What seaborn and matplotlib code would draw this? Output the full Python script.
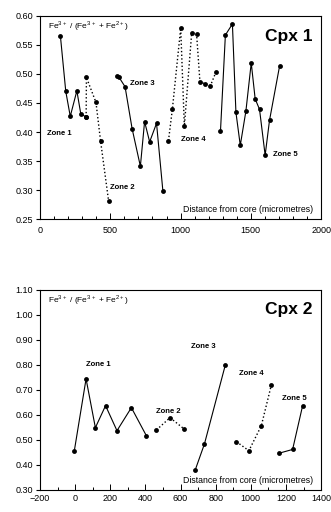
import matplotlib
matplotlib.use("Agg")
import matplotlib.pyplot as plt
import numpy as np
import pandas as pd
import seaborn as sns
from matplotlib.ticker import MultipleLocator, FormatStrFormatter

sns.set_style("ticks")
plt.rcParams["font.family"] = ["Liberation Sans", "DejaVu Sans"]
plt.rcParams["mathtext.fontset"] = "custom"
plt.rcParams["mathtext.rm"] = "Liberation Sans"
for k in ["text.color", "axes.labelcolor", "xtick.color", "ytick.color", "axes.edgecolor"]:
    plt.rcParams[k] = "black"

# Cpx 1 -- distance from core (micrometres) and Fe3+/(Fe3+ + Fe2+)
cpx1_zone1_x = [145, 183, 215, 262, 290, 328]
cpx1_zone1_y = [0.565, 0.470, 0.427, 0.471, 0.431, 0.426]
cpx1_zone2_x = [328, 330, 398, 431, 488]
cpx1_zone2_y = [0.426, 0.494, 0.451, 0.384, 0.281]
cpx1_zone3_x = [548, 560, 605, 655, 714, 744, 780, 829, 874]
cpx1_zone3_y = [0.497, 0.495, 0.478, 0.406, 0.341, 0.418, 0.383, 0.415, 0.299]
cpx1_zone4_x = [914, 942, 1001, 1027, 1079, 1114, 1138, 1175, 1213, 1253]
cpx1_zone4_y = [0.385, 0.440, 0.579, 0.410, 0.570, 0.569, 0.486, 0.483, 0.480, 0.504]
cpx1_zone5_x = [1284, 1319, 1369, 1394, 1425, 1465, 1503, 1531, 1562, 1602, 1633, 1705]
cpx1_zone5_y = [0.401, 0.567, 0.586, 0.434, 0.377, 0.436, 0.519, 0.457, 0.439, 0.360, 0.420, 0.514]

# Cpx 2
cpx2_zone1_x = [-5, 62, 115, 173, 238, 320, 406]
cpx2_zone1_y = [0.456, 0.744, 0.549, 0.637, 0.537, 0.629, 0.516]
cpx2_zone2_x = [463, 540, 620]
cpx2_zone2_y = [0.540, 0.589, 0.544]
cpx2_zone3_x = [683, 736, 855]
cpx2_zone3_y = [0.379, 0.484, 0.800]
cpx2_zone4_x = [918, 989, 1060, 1117]
cpx2_zone4_y = [0.493, 0.457, 0.557, 0.720]
cpx2_zone5_x = [1161, 1238, 1295]
cpx2_zone5_y = [0.447, 0.462, 0.637]

zone_names = ["Zone 1", "Zone 2", "Zone 3", "Zone 4", "Zone 5"]
zone_styles = ["-", ":", "-", ":", "-"]

cpx1 = [(cpx1_zone1_x, cpx1_zone1_y), (cpx1_zone2_x, cpx1_zone2_y), (cpx1_zone3_x, cpx1_zone3_y),
        (cpx1_zone4_x, cpx1_zone4_y), (cpx1_zone5_x, cpx1_zone5_y)]
cpx2 = [(cpx2_zone1_x, cpx2_zone1_y), (cpx2_zone2_x, cpx2_zone2_y), (cpx2_zone3_x, cpx2_zone3_y),
        (cpx2_zone4_x, cpx2_zone4_y), (cpx2_zone5_x, cpx2_zone5_y)]

# label positions in data coords
cpx1_label_pos = [(50, 0.398), (495, 0.305), (640, 0.484), (1000, 0.387), (1655, 0.362)]
cpx2_label_pos = [(60, 0.800), (460, 0.615), (660, 0.875), (930, 0.765), (1175, 0.665)]

fig = plt.figure(figsize=(3.31, 5.12), dpi=100)
ax1 = fig.add_axes([0.121, 0.572, 0.849, 0.397])
ax2 = fig.add_axes([0.121, 0.043, 0.849, 0.391])


def draw(ax, zones, label_pos, title):
    for (xs, ys), ls, name, (lx, ly) in zip(zones, zone_styles, zone_names, label_pos):
        df = pd.DataFrame({"x": xs, "y": ys})
        sns.lineplot(data=df, x="x", y="y", ax=ax, sort=False, estimator=None,
                     color="black", linestyle=ls, linewidth=0.8 if ls == "-" else 1.0,
                     marker="o", markersize=3.5, markeredgewidth=0)
        ax.text(lx, ly, name, fontsize=5.5, fontweight="bold", ha="left", va="center")
    ax.text(0.03, 0.95, r"Fe$^{3+}$ / (Fe$^{3+}$ + Fe$^{2+}$)", transform=ax.transAxes,
            fontsize=6, ha="left", va="center")
    ax.text(0.97, 0.90, title, transform=ax.transAxes, fontsize=12.5,
            fontweight="bold", ha="right", va="center")
    ax.text(0.97, 0.045, "Distance from core (micrometres)", transform=ax.transAxes,
            fontsize=6.3, ha="right", va="center")
    ax.set_xlabel("")
    ax.set_ylabel("")
    for s in ax.spines.values():
        s.set_linewidth(0.8)
        s.set_color("black")
    ax.tick_params(axis="y", direction="out", length=3, width=0.8, labelsize=6.5, pad=2)
    ax.tick_params(axis="x", which="both", direction="in", width=0.7, labelsize=6.5, pad=5)
    ax.tick_params(axis="x", which="major", length=4)
    ax.tick_params(axis="x", which="minor", length=2)


draw(ax1, cpx1, cpx1_label_pos, "Cpx 1")
ax1.set_xlim(0, 2000)
ax1.set_ylim(0.25, 0.60)
ax1.set_xticks(np.arange(0, 2001, 500))
ax1.xaxis.set_minor_locator(MultipleLocator(100))
ax1.set_yticks(np.arange(0.25, 0.601, 0.05))
ax1.yaxis.set_major_formatter(FormatStrFormatter("%.2f"))

draw(ax2, cpx2, cpx2_label_pos, "Cpx 2")
ax2.set_xlim(-200, 1400)
ax2.set_ylim(0.30, 1.10)
ax2.set_xticks(np.arange(-200, 1401, 200))
ax2.xaxis.set_minor_locator(MultipleLocator(100))
ax2.set_yticks(np.arange(0.30, 1.101, 0.10))
ax2.yaxis.set_major_formatter(FormatStrFormatter("%.2f"))
ax2.tick_params(axis="x", pad=3)

fig.savefig("out.png", dpi=100)
